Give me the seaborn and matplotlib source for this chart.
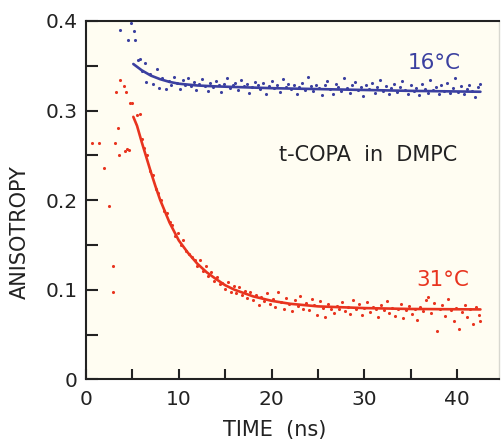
import matplotlib
matplotlib.use("Agg")
import matplotlib.pyplot as plt
import seaborn as sns
import pandas as pd

# ---- data ----
blue_x = [3.66, 4.56, 4.9, 5.2, 5.3, 5.6, 5.8, 6.0, 6.4, 6.5, 6.9, 7.2, 7.6, 7.9, 8.2, 8.6, 8.9, 9.2, 9.5, 9.8,
          10.1, 10.4, 10.7, 11.0, 11.3, 11.6, 11.9, 12.2, 12.5, 12.8, 13.1, 13.4, 13.7, 14.0, 14.3, 14.6, 14.9,
          15.2, 15.5, 15.8, 16.1, 16.4, 16.7, 17.0, 17.3, 17.6, 17.9, 18.2, 18.5, 18.8, 19.1, 19.4, 19.7, 20.0,
          20.3, 20.6, 20.9, 21.2, 21.5, 21.8, 22.1, 22.4, 22.7, 23.0, 23.3, 23.6, 23.9, 24.2, 24.5, 24.8, 25.1,
          25.4, 25.7, 26.0, 26.3, 26.6, 26.9, 27.2, 27.5, 27.8, 28.1, 28.4, 28.7, 29.0, 29.3, 29.6, 29.9, 30.2,
          30.5, 30.8, 31.1, 31.4, 31.7, 32.0, 32.3, 32.6, 32.9, 33.2, 33.5, 33.8, 34.1, 34.4, 34.7, 35.0, 35.3,
          35.6, 35.9, 36.2, 36.5, 36.8, 37.1, 37.4, 37.7, 38.0, 38.3, 38.6, 38.9, 39.2, 39.5, 39.8, 40.1, 40.4,
          40.7, 41.0, 41.3, 41.6, 41.9, 42.2, 42.5]
blue_y = [0.390, 0.379, 0.398, 0.389, 0.379, 0.356, 0.358, 0.344, 0.353, 0.332, 0.341, 0.330, 0.346, 0.325,
          0.336, 0.324, 0.333, 0.328, 0.337, 0.331, 0.324, 0.334, 0.329, 0.336, 0.327, 0.332, 0.323, 0.330,
          0.335, 0.327, 0.322, 0.331, 0.326, 0.333, 0.328, 0.321, 0.330, 0.336, 0.325, 0.329, 0.331, 0.323,
          0.334, 0.327, 0.330, 0.320, 0.326, 0.332, 0.328, 0.324, 0.331, 0.318, 0.327, 0.333, 0.325, 0.329,
          0.321, 0.335, 0.326, 0.330, 0.324, 0.328, 0.319, 0.326, 0.331, 0.323, 0.338, 0.327, 0.322, 0.329,
          0.325, 0.317, 0.328, 0.333, 0.324, 0.319, 0.330, 0.326, 0.322, 0.336, 0.325, 0.320, 0.328, 0.332,
          0.323, 0.326, 0.316, 0.329, 0.324, 0.331, 0.320, 0.326, 0.334, 0.322, 0.327, 0.318, 0.325, 0.330,
          0.321, 0.326, 0.333, 0.323, 0.319, 0.328, 0.322, 0.325, 0.317, 0.330, 0.324, 0.320, 0.334, 0.323,
          0.326, 0.319, 0.328, 0.322, 0.331, 0.320, 0.325, 0.336, 0.321, 0.327, 0.318, 0.324, 0.329, 0.322,
          0.315, 0.326, 0.330]

blue_fit_x = [5.1, 6, 7, 8, 9, 10, 12, 14, 17, 20, 25, 30, 35, 42.5]
blue_fit_y = [0.352, 0.345, 0.339, 0.335, 0.332, 0.330, 0.328, 0.327, 0.326, 0.325, 0.324, 0.323, 0.322, 0.321]

red_x = [0.6, 1.4, 1.9, 2.5, 2.9, 2.9, 3.1, 3.2, 3.4, 3.6, 3.7, 4.1, 4.2, 4.3, 4.4, 4.6, 4.7, 5.0,
         5.5, 5.8, 6.0, 6.3, 6.6, 6.9, 7.2, 7.5, 7.8, 8.1, 8.4, 8.7, 9.0, 9.3, 9.6, 9.9, 10.2, 10.5, 10.8,
         11.1, 11.4, 11.7, 12.0, 12.3, 12.6, 12.9, 13.2, 13.5, 13.8, 14.1, 14.4, 14.7, 15.0, 15.3, 15.6,
         15.9, 16.2, 16.5, 16.8, 17.1, 17.4, 17.7, 18.0, 18.3, 18.6, 18.9, 19.2, 19.5, 19.8, 20.1, 20.4,
         20.7, 21.0, 21.3, 21.6, 21.9, 22.2, 22.5, 22.8, 23.1, 23.4, 23.7, 24.0, 24.3, 24.6, 24.9, 25.2,
         25.5, 25.8, 26.1, 26.4, 26.7, 27.0, 27.3, 27.6, 27.9, 28.2, 28.5, 28.8, 29.1, 29.4, 29.7, 30.0,
         30.3, 30.6, 30.9, 31.2, 31.5, 31.8, 32.1, 32.4, 32.7, 33.0, 33.3, 33.6, 33.9, 34.2, 34.5, 34.8,
         35.1, 35.4, 35.7, 36.0, 36.3, 36.6, 36.9, 37.2, 37.5, 37.8, 38.1, 38.4, 38.7, 39.0, 39.3, 39.6,
         39.9, 40.2, 40.5, 40.8, 41.1, 41.4, 41.7, 42.0, 42.3, 42.5]
red_y = [0.264, 0.264, 0.236, 0.194, 0.127, 0.098, 0.264, 0.321, 0.280, 0.250, 0.334, 0.327, 0.255, 0.321,
         0.257, 0.256, 0.308, 0.308,
         0.295, 0.296, 0.268, 0.258, 0.250, 0.232, 0.228, 0.212, 0.208, 0.200, 0.188, 0.186, 0.176, 0.172,
         0.160, 0.163, 0.150, 0.155, 0.143, 0.140, 0.136, 0.133, 0.127, 0.133, 0.121, 0.126, 0.115, 0.120,
         0.110, 0.114, 0.106, 0.108, 0.101, 0.109, 0.098, 0.104, 0.096, 0.103, 0.094, 0.099, 0.091, 0.097,
         0.089, 0.094, 0.083, 0.092, 0.087, 0.096, 0.084, 0.090, 0.081, 0.098, 0.086, 0.079, 0.091, 0.084,
         0.076, 0.088, 0.082, 0.093, 0.079, 0.085, 0.077, 0.090, 0.083, 0.072, 0.087, 0.080, 0.069, 0.084,
         0.078, 0.074, 0.082, 0.079, 0.086, 0.076, 0.081, 0.073, 0.088, 0.079, 0.084, 0.072, 0.080, 0.086,
         0.075, 0.081, 0.078, 0.070, 0.083, 0.077, 0.087, 0.074, 0.080, 0.071, 0.079, 0.084, 0.068, 0.077,
         0.082, 0.073, 0.079, 0.066, 0.081, 0.076, 0.088, 0.092, 0.074, 0.085, 0.054, 0.079, 0.083, 0.071,
         0.090, 0.077, 0.065, 0.080, 0.056, 0.075, 0.083, 0.070, 0.078, 0.062, 0.081, 0.072, 0.065]

red_fit_x = [5.1, 5.5, 6, 6.5, 7, 7.5, 8, 9, 10, 11, 12, 13, 14, 15, 16, 18, 20, 22, 25, 30, 35, 42.5]
red_fit_y = [0.293, 0.283, 0.265, 0.248, 0.231, 0.215, 0.200, 0.175, 0.155, 0.141, 0.129, 0.1195, 0.112,
             0.105, 0.100, 0.0926, 0.0876, 0.0843, 0.0814, 0.0795, 0.0785, 0.078]

x_ticks = [0, 10, 20, 30, 40]
y_ticks = [0, 0.1, 0.2, 0.3, 0.4]
y_ticklabels = ["0", "0.1", "0.2", "0.3", "0.4"]

BLUE = "#3b40a0"
RED = "#e8341f"
TXT = "#222222"

sns.set_style("ticks")
plt.rcParams["font.family"] = ["DejaVu Sans"]

fig = plt.figure(figsize=(5.02, 4.43), dpi=100)
ax = fig.add_axes([0.1713, 0.1438, 0.8227, 0.8088])
ax.set_facecolor("#fffdf2")

blue_pts = pd.DataFrame({"t": blue_x, "r": blue_y})
red_pts = pd.DataFrame({"t": red_x, "r": red_y})
blue_fit = pd.DataFrame({"t": blue_fit_x, "r": blue_fit_y})
red_fit = pd.DataFrame({"t": red_fit_x, "r": red_fit_y})

sns.scatterplot(data=blue_pts, x="t", y="r", ax=ax, color=BLUE, s=5, linewidth=0, zorder=3)
sns.scatterplot(data=red_pts, x="t", y="r", ax=ax, color=RED, s=5, linewidth=0, zorder=3)
sns.lineplot(data=blue_fit, x="t", y="r", ax=ax, color=BLUE, linewidth=1.9, zorder=4)
sns.lineplot(data=red_fit, x="t", y="r", ax=ax, color=RED, linewidth=1.9, zorder=4)

ax.set_xlim(0, 44.5)
ax.set_ylim(0, 0.4)
ax.set_xticks(x_ticks)
ax.set_xticks([5, 15, 25, 35], minor=True)
ax.set_yticks(y_ticks)
ax.set_yticklabels(y_ticklabels)
ax.set_yticks([0.05, 0.15, 0.25, 0.35], minor=True)

ax.tick_params(axis="x", which="both", direction="in", length=7, width=1.5, colors=TXT,
               labelsize=14.5, pad=8)
ax.tick_params(axis="y", which="both", direction="in", length=8.5, width=1.5, colors=TXT,
               labelsize=14.5, pad=6)

for s in ["left", "bottom", "top"]:
    ax.spines[s].set_linewidth(1.5)
    ax.spines[s].set_color(TXT)
ax.spines["right"].set_linewidth(1.0)
ax.spines["right"].set_color("#d8d8d0")

ax.set_xlabel("TIME  (ns)", fontsize=15, color=TXT)
ax.set_ylabel("ANISOTROPY", fontsize=15, color=TXT)
ax.xaxis.label.set_verticalalignment("center")
ax.yaxis.label.set_verticalalignment("center")
ax.xaxis.set_label_coords(0.458, -0.1415)
ax.yaxis.set_label_coords(-0.16, 0.41)

ax.text(37.5, 0.3536, "16°C", color=BLUE, fontsize=15.5, ha="center", va="center")
ax.text(38.4, 0.111, "31°C", color=RED, fontsize=15.5, ha="center", va="center")
ax.text(30.4, 0.250, "t-COPA  in  DMPC", color=TXT, fontsize=15, ha="center", va="center")

fig.savefig("out.png", dpi=100, facecolor="white")
